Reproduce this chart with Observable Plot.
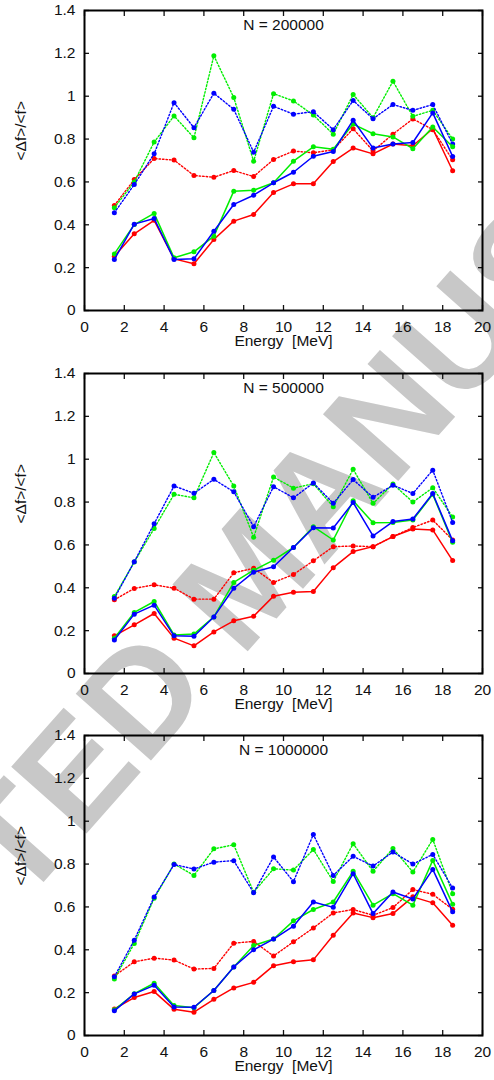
<!DOCTYPE html>
<html><head><meta charset="utf-8">
<script src="https://cdn.jsdelivr.net/npm/d3@7"></script>
<script src="https://cdn.jsdelivr.net/npm/@observablehq/plot@0.6"></script>
<style>
body{margin:0;background:#fff;}
#wrap{position:relative;width:494px;height:1080px;overflow:hidden;}
#wm{position:absolute;left:0;top:0;}
#charts{position:relative;}
#charts svg{display:block;}
</style></head><body>
<div id="wrap">
<svg id="wm" width="494" height="1080"><text x="246" y="576" dy="0.35em" transform="rotate(-48.5 246 576)" text-anchor="middle" font-family="Liberation Sans, Arial, sans-serif" font-weight="bold" font-size="146" fill="#c8c8c8">ACCEPTED MANUSCRIPT</text></svg>
<div id="charts"></div>
</div>
<script>
// ---- data ----
const energy = [1.5, 2.5, 3.5, 4.5, 5.5, 6.5, 7.5, 8.5, 9.5, 10.5, 11.5, 12.5, 13.5, 14.5, 15.5, 16.5, 17.5, 18.5];
const xTicks = [0, 2, 4, 6, 8, 10, 12, 14, 16, 18, 20];
const yTicks = [0, 0.2, 0.4, 0.6, 0.8, 1, 1.2, 1.4];
const titles = ["N = 200000", "N = 500000", "N = 1000000"];
const xLabel = "Energy\u00a0 [MeV]";
const yLabel = "<\u0394f>/<f>";

// N = 200000
const solidRed1   = [0.253, 0.358, 0.421, 0.241, 0.218, 0.331, 0.417, 0.448, 0.551, 0.591, 0.591, 0.695, 0.758, 0.731, 0.777, 0.769, 0.848, 0.652];
const solidGreen1 = [0.264, 0.401, 0.453, 0.246, 0.274, 0.347, 0.557, 0.561, 0.596, 0.697, 0.764, 0.753, 0.870, 0.825, 0.810, 0.755, 0.856, 0.764];
const solidBlue1  = [0.238, 0.403, 0.429, 0.238, 0.241, 0.370, 0.495, 0.538, 0.596, 0.645, 0.720, 0.742, 0.888, 0.758, 0.777, 0.784, 0.922, 0.719];
const dotRed1     = [0.490, 0.611, 0.709, 0.702, 0.630, 0.622, 0.653, 0.625, 0.705, 0.744, 0.736, 0.750, 0.848, 0.745, 0.823, 0.894, 0.844, 0.703];
const dotGreen1   = [0.480, 0.600, 0.786, 0.908, 0.806, 1.189, 0.994, 0.697, 1.012, 0.978, 0.912, 0.823, 1.008, 0.900, 1.070, 0.906, 0.934, 0.800];
const dotBlue1    = [0.456, 0.588, 0.731, 0.970, 0.853, 1.014, 0.939, 0.739, 0.953, 0.916, 0.928, 0.844, 0.980, 0.895, 0.961, 0.934, 0.961, 0.777];

// N = 500000
const solidRed2   = [0.176, 0.227, 0.280, 0.165, 0.129, 0.194, 0.246, 0.267, 0.361, 0.379, 0.383, 0.494, 0.569, 0.592, 0.639, 0.674, 0.670, 0.527];
const solidGreen2 = [0.165, 0.285, 0.336, 0.180, 0.184, 0.264, 0.425, 0.482, 0.529, 0.588, 0.685, 0.623, 0.806, 0.704, 0.705, 0.716, 0.836, 0.612];
const solidBlue2  = [0.156, 0.277, 0.319, 0.176, 0.174, 0.264, 0.398, 0.473, 0.498, 0.588, 0.680, 0.679, 0.798, 0.642, 0.709, 0.721, 0.840, 0.619];
const dotRed2     = [0.344, 0.397, 0.414, 0.398, 0.347, 0.347, 0.470, 0.491, 0.425, 0.462, 0.526, 0.592, 0.595, 0.592, 0.639, 0.681, 0.716, 0.623];
const dotGreen2   = [0.359, 0.520, 0.677, 0.836, 0.820, 1.031, 0.875, 0.636, 0.917, 0.865, 0.886, 0.778, 0.953, 0.794, 0.884, 0.800, 0.867, 0.730];
const dotBlue2    = [0.351, 0.521, 0.699, 0.875, 0.841, 0.906, 0.848, 0.685, 0.872, 0.820, 0.889, 0.794, 0.905, 0.822, 0.879, 0.840, 0.949, 0.705];

// N = 1000000
const solidRed3   = [0.124, 0.177, 0.205, 0.122, 0.109, 0.169, 0.222, 0.248, 0.326, 0.344, 0.353, 0.468, 0.572, 0.550, 0.569, 0.647, 0.619, 0.515];
const solidGreen3 = [0.120, 0.195, 0.244, 0.140, 0.130, 0.210, 0.320, 0.420, 0.450, 0.535, 0.588, 0.623, 0.766, 0.608, 0.662, 0.608, 0.817, 0.612];
const solidBlue3  = [0.115, 0.194, 0.234, 0.133, 0.132, 0.210, 0.320, 0.400, 0.450, 0.510, 0.623, 0.598, 0.755, 0.569, 0.670, 0.637, 0.775, 0.577];
const dotRed3     = [0.278, 0.344, 0.361, 0.352, 0.310, 0.313, 0.431, 0.439, 0.371, 0.437, 0.502, 0.572, 0.588, 0.561, 0.597, 0.681, 0.659, 0.589];
const dotGreen3   = [0.264, 0.429, 0.640, 0.800, 0.747, 0.871, 0.890, 0.669, 0.778, 0.772, 0.868, 0.719, 0.895, 0.766, 0.873, 0.763, 0.915, 0.662];
const dotBlue3    = [0.274, 0.445, 0.646, 0.798, 0.777, 0.809, 0.816, 0.666, 0.833, 0.718, 0.938, 0.747, 0.836, 0.791, 0.856, 0.800, 0.845, 0.688];

const RED = "#ff0000", GREEN = "#00ee00", BLUE = "#0000ff";

const panels = [
  {title: titles[0], height: 363, mb: 53, series: [
    [dotRed1, RED, true], [dotGreen1, GREEN, true], [dotBlue1, BLUE, true],
    [solidRed1, RED, false], [solidGreen1, GREEN, false], [solidBlue1, BLUE, false]]},
  {title: titles[1], height: 362, mb: 52, series: [
    [dotRed2, RED, true], [dotGreen2, GREEN, true], [dotBlue2, BLUE, true],
    [solidRed2, RED, false], [solidGreen2, GREEN, false], [solidBlue2, BLUE, false]]},
  {title: titles[2], height: 355, mb: 45, series: [
    [dotRed3, RED, true], [dotGreen3, GREEN, true], [dotBlue3, BLUE, true],
    [solidRed3, RED, false], [solidGreen3, GREEN, false], [solidBlue3, BLUE, false]]}
];

const fmt = d => String(+d.toFixed(1));
const host = document.getElementById("charts");

for (const p of panels) {
  const seriesMarks = [];
  for (const [vals, color, dotted] of p.series) {
    const data = energy.map((e, i) => ({e, v: vals[i]}));
    seriesMarks.push(Plot.line(data, {x: "e", y: "v", stroke: color, strokeWidth: dotted ? 1.4 : 1.5,
      strokeDasharray: dotted ? "1.5,2" : null, curve: "linear"}));
    seriesMarks.push(Plot.dot(data, {x: "e", y: "v", fill: color, r: 2.5, stroke: "none"}));
  }
  const chart = Plot.plot({
    width: 494, height: p.height,
    marginLeft: 84, marginRight: 12, marginTop: 10, marginBottom: p.mb,
    style: {background: "transparent", fontFamily: "'Liberation Sans', Arial, sans-serif", fontSize: "15.5px", color: "#111"},
    x: {domain: [0, 20]},
    y: {domain: [0, 1.4]},
    marks: [
      ...seriesMarks,
      Plot.axisX({anchor: "bottom", ticks: xTicks, tickSize: -5, tickPadding: 15, tickFormat: fmt, label: null, strokeWidth: 1.3}),
      Plot.axisX({anchor: "top", ticks: xTicks, tickSize: -5, tickFormat: () => "", label: null, strokeWidth: 1.3}),
      Plot.axisY({anchor: "left", ticks: yTicks, tickSize: -5, tickPadding: 14, tickFormat: fmt, label: null, strokeWidth: 1.3}),
      Plot.axisY({anchor: "right", ticks: yTicks, tickSize: -5, tickFormat: () => "", label: null, strokeWidth: 1.3}),
      Plot.frame({stroke: "#000", strokeWidth: 2}),
      Plot.text([p.title], {frameAnchor: "top", dy: 15, lineAnchor: "middle", text: d => d, fill: "#111"}),
      Plot.text([xLabel], {frameAnchor: "bottom", dy: 31, lineAnchor: "middle", text: d => d, fill: "#111"}),
      Plot.text([yLabel], {frameAnchor: "left", dx: -63, rotate: -90, lineAnchor: "middle", text: d => d, fill: "#111"})
    ]
  });
  host.appendChild(chart);
}
</script>
</body></html>
